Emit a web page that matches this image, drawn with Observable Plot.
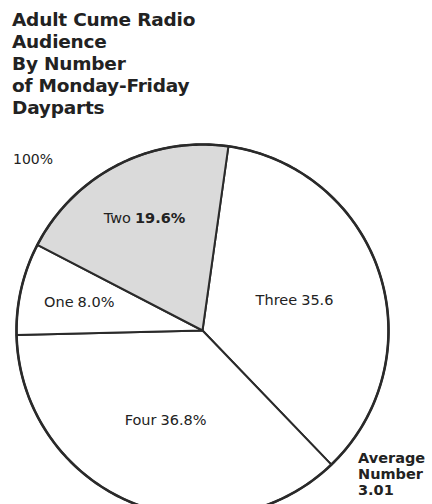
<!DOCTYPE html>
<html>
<head>
<meta charset="utf-8">
<script src="https://cdn.jsdelivr.net/npm/d3@7"></script>
<script src="https://cdn.jsdelivr.net/npm/@observablehq/plot@0.6"></script>
<style>
  html, body { margin: 0; padding: 0; background: #fff; }
  #wrap { position: relative; width: 432px; height: 504px; overflow: hidden; font-family: "DejaVu Sans", sans-serif; color: #222; }
  #title { position: absolute; left: 12px; top: 9px; font-size: 18.5px; line-height: 22px; font-weight: bold; letter-spacing: -0.2px; }
  #title .light { font-weight: 600; }
  #hundred { position: absolute; left: 13px; top: 151px; font-size: 14px; }
  #avg { position: absolute; left: 358px; top: 450px; font-size: 14.5px; line-height: 16px; font-weight: 600; }
  svg { position: absolute; left: 0; top: 0; }
</style>
</head>
<body>
<div id="wrap">
  <div id="chart"></div>
  <div id="title"></div>
  <div id="hundred"></div>
  <div id="avg"></div>
</div>
<script>
// ---- data ----
const titleLines = ["Adult Cume Radio", "Audience", "By Number", "of Monday-Friday", "Dayparts"];
const names = ["Three", "Four", "One", "Two"];
const values = [35.6, 36.8, 8.0, 19.6];
const valueLabels = ["35.6", "36.8%", "8.0%", "19.6%"];
const fills = ["#ffffff", "#ffffff", "#ffffff", "#dadada"];
const totalLabel = "100%";
const averageLines = ["Average", "Number", "3.01"];

// ---- layout ----
const W = 432, H = 504;
const cx = 202, cy = 330, R = 186;
const startAngle = 8; // degrees clockwise from 12 o'clock
const labelFont = 14.5;
const gap = 4;

// ---- text ----
document.getElementById("title").innerHTML = titleLines
  .map((t, i) => `<div class="${i === 3 ? "light" : ""}">${t}</div>`).join("");
document.getElementById("hundred").textContent = totalLabel;
document.getElementById("avg").innerHTML = averageLines.map(t => `<div>${t}</div>`).join("");

// text measurement for centring two-part labels
const ctx = document.createElement("canvas").getContext("2d");
const measure = (t, bold) => {
  ctx.font = `${bold ? "bold " : ""}${labelFont}px "DejaVu Sans"`;
  return ctx.measureText(t).width;
};

// ---- slices ----
const total = d3.sum(values);
let acc = startAngle;
const slices = names.map((name, i) => {
  const span = values[i] / total * 360;
  const s = { name, value: values[i], label: valueLabels[i], a0: acc, a1: acc + span };
  acc += span;
  return s;
});
const rad = a => a * Math.PI / 180;
const polys = slices.flatMap(s => {
  const pts = [{ name: s.name, x: 0, y: 0 }];
  const n = Math.ceil(s.a1 - s.a0);
  for (let k = 0; k <= n; k++) {
    const a = rad(s.a0 + (s.a1 - s.a0) * k / n);
    pts.push({ name: s.name, x: Math.sin(a), y: Math.cos(a) });
  }
  return pts;
});
const circle = d3.range(0, 361).map(a => ({ x: Math.sin(rad(a)), y: Math.cos(rad(a)) }));
const labels = slices.map(s => {
  const m = rad((s.a0 + s.a1) / 2);
  const r = s.value < 25 ? 0.68 : 0.52;
  const bold = s.name === "Two";
  const wn = measure(s.name, false), wv = measure(s.label, bold);
  const shift = (wn - wv) / 2; // split point relative to centre
  return { ...s, bold, x: r * Math.sin(m), y: r * Math.cos(m), shift };
});

const chart = Plot.plot({
  width: W, height: H,
  margin: 0,
  x: { domain: [-cx / R, (W - cx) / R], axis: null },
  y: { domain: [-(H - cy) / R, cy / R], axis: null },
  color: { domain: names, range: fills },
  style: { fontFamily: "DejaVu Sans, sans-serif", color: "#222", background: "transparent" },
  marks: [
    Plot.line(polys, { x: "x", y: "y", z: "name", fill: "name", stroke: "#2a2a2a", strokeWidth: 2, curve: "linear-closed", strokeLinejoin: "round" }),
    Plot.line(circle, { x: "x", y: "y", stroke: "#2a2a2a", strokeWidth: 2.6, fill: "none" }),
    ...labels.map(d => Plot.text([d], { x: "x", y: "y", text: "name", textAnchor: "end", dx: d.shift - gap / 2, fontSize: labelFont, fill: "#222" })),
    ...labels.map(d => Plot.text([d], { x: "x", y: "y", text: "label", textAnchor: "start", dx: d.shift + gap / 2, fontSize: labelFont, fontWeight: d.bold ? "bold" : "normal", fill: "#222" }))
  ]
});
document.getElementById("chart").appendChild(chart);
</script>
</body>
</html>
